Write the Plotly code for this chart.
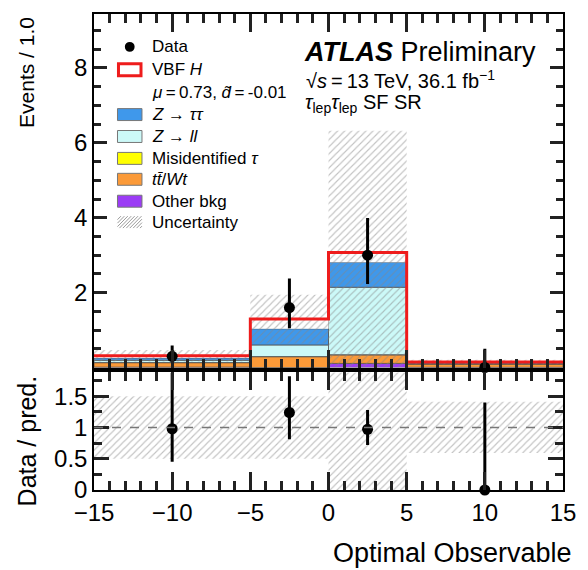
import plotly.graph_objects as go

# ---- binning (variable width, normalised to events per unit width) ----
bin_edges = [-15, -5, 0, 5, 15]

# ---- stacked predictions, bottom to top ----
other_bkg = [0.01, 0.00, 0.11, 0.005]
ttbar_wt = [0.12, 0.29, 0.23, 0.09]
misid_tau = [0.003, 0.003, 0.003, 0.002]
z_ll = [0.06, 0.31, 1.80, 0.02]
z_tautau = [0.06, 0.43, 0.67, 0.01]
vbf_h = [0.06, 0.26, 0.26, 0.02]

# absolute uncertainty on the total prediction
pred_unc = [0.155, 0.65, 3.25, 0.06]

# ---- data ----
data_vals = [0.30, 1.60, 3.00, 0.00]
data_err_up = [0.29, 0.78, 0.99, 0.50]
data_err_dn = [0.16, 0.55, 0.77, 0.00]

# ---- ratio panel ----
ratio_vals = [0.98, 1.24, 0.97, 0.00]
ratio_err_up = [0.90, 0.58, 0.31, 1.40]
ratio_err_dn = [0.53, 0.43, 0.25, 0.00]
ratio_rel_unc = [0.50, 0.50, 1.06, 0.41]

x_tick_vals = [-15, -10, -5, 0, 5, 10, 15]
main_y_ticks = [2, 4, 6, 8]
ratio_y_ticks = [0, 0.5, 1, 1.5]
ratio_y_labels = ["0", "0.5", "1", "1.5"]

FONT = "Liberation Sans, Arial, Helvetica, sans-serif"

centers = [(a + b) / 2 for a, b in zip(bin_edges[:-1], bin_edges[1:])]
widths = [b - a for a, b in zip(bin_edges[:-1], bin_edges[1:])]

stack = [
    ("Other bkg", other_bkg, "#9b3cf5"),
    ("tt/Wt", ttbar_wt, "#fb9a38"),
    ("Misidentified tau", misid_tau, "#ffff00"),
    ("Z->ll", z_ll, "#ccf9f8"),
    ("Z->tautau", z_tautau, "#3f98eb"),
    ("VBF H", vbf_h, "#ffffff"),
]

fig = go.Figure()

base = [0.0] * len(centers)
for name, vals, col in stack:
    fig.add_trace(go.Bar(
        x=centers, y=vals, base=list(base), width=widths,
        marker=dict(color=col, line=dict(color="#555555", width=0.8 if col != "#ffffff" else 0)),
        name=name, showlegend=False, xaxis="x", yaxis="y",
    ))
    base = [b + v for b, v in zip(base, vals)]
total = base

HATCH = dict(shape="/", fgcolor="#858585", bgcolor="rgba(0,0,0,0)", size=5, solidity=0.22, fillmode="overlay")

# hatched uncertainty band on the total
unc_lo = [max(t - u, 0.0) for t, u in zip(total, pred_unc)]
unc_h = [t + u - lo for t, u, lo in zip(total, pred_unc, unc_lo)]
fig.add_trace(go.Bar(
    x=centers, y=unc_h, base=unc_lo, width=widths,
    marker=dict(color="rgba(0,0,0,0)", line=dict(width=0), pattern=HATCH),
    showlegend=False, xaxis="x", yaxis="y",
))

# red outline of the total prediction
fig.add_trace(go.Scatter(
    x=bin_edges, y=total + [total[-1]], mode="lines", line=dict(color="#ee1c1c", width=3, shape="hv"),
    showlegend=False, xaxis="x", yaxis="y",
))

# data points
fig.add_trace(go.Scatter(
    x=centers, y=data_vals, mode="markers",
    marker=dict(color="black", size=11),
    error_y=dict(type="data", symmetric=False, array=data_err_up, arrayminus=data_err_dn,
                 color="black", thickness=3, width=0),
    cliponaxis=False, showlegend=False, xaxis="x", yaxis="y",
))

# ratio panel: uncertainty band
r_lo = [1 - u for u in ratio_rel_unc]
r_h = [2 * u for u in ratio_rel_unc]
fig.add_trace(go.Bar(
    x=centers, y=r_h, base=r_lo, width=widths,
    marker=dict(color="rgba(0,0,0,0)", line=dict(width=0), pattern=HATCH),
    showlegend=False, xaxis="x2", yaxis="y2",
))
fig.add_trace(go.Scatter(
    x=centers, y=ratio_vals, mode="markers",
    marker=dict(color="black", size=11),
    error_y=dict(type="data", symmetric=False, array=ratio_err_up, arrayminus=ratio_err_dn,
                 color="black", thickness=3, width=0),
    cliponaxis=False, showlegend=False, xaxis="x2", yaxis="y2",
))

# invisible anchors so the mirrored tick axes (top / right) get drawn
for xa, ya in [("x3", "y"), ("x", "y3"), ("x4", "y2"), ("x2", "y4")]:
    fig.add_trace(go.Scatter(x=[0], y=[1], mode="markers", marker=dict(opacity=0, size=1),
                             hoverinfo="skip", showlegend=False, xaxis=xa, yaxis=ya))

# ---- layout geometry (pixels) ----
W, H = 588, 570
L, R, T, B = 94, 573, 12, 490
main_bottom = 367
ratio_top = 372


def px(x):
    return (x - L) / (R - L)


def py(y):
    return (B - y) / (B - T)


TICKC = "#222222"
TICKW = 2.5

axis_common = dict(
    showline=True, linecolor="black", linewidth=1.5, mirror=True,
    ticks="inside", tickcolor=TICKC, tickwidth=TICKW,
    showgrid=False, zeroline=False,
    tickfont=dict(family=FONT, size=24, color="black"),
)


def minor(dtick, tick0, length):
    return dict(ticks="inside", tickmode="linear", dtick=dtick, tick0=tick0, ticklen=length,
                tickcolor=TICKC, tickwidth=TICKW)


main_dom = [py(main_bottom), 1]
ratio_dom = [0, py(ratio_top)]

xmain = dict(axis_common, range=[-15, 15], tickmode="linear", tick0=-15, dtick=5, ticklen=18,
             minor=minor(1, -15, 9))
ymain = dict(axis_common, range=[0, 9.44], tickmode="array", tickvals=main_y_ticks, ticklen=13,
             minor=minor(0.5, 0, 7))
yratio = dict(axis_common, range=[0, 1.88], tickmode="array", tickvals=ratio_y_ticks,
              ticktext=ratio_y_labels, ticklen=15, minor=minor(0.25, 0, 8))

fig.update_layout(
    width=W, height=H,
    margin=dict(l=L, r=W - R, t=T, b=H - B, pad=0),
    paper_bgcolor="white", plot_bgcolor="rgba(0,0,0,0)",
    barmode="overlay",
    font=dict(family=FONT, color="black"),
    showlegend=False,
    xaxis=dict(xmain, anchor="y", domain=[0, 1], showticklabels=False),
    yaxis=dict(ymain, anchor="x", domain=main_dom),
    xaxis2=dict(xmain, anchor="y2", domain=[0, 1]),
    yaxis2=dict(yratio, anchor="x2", domain=ratio_dom),
    # mirrored tick sets on the top and right edges
    xaxis3=dict(xmain, overlaying="x", side="top", anchor="y", showticklabels=False),
    yaxis3=dict(ymain, overlaying="y", side="right", anchor="x", showticklabels=False),
    xaxis4=dict(xmain, overlaying="x2", side="top", anchor="y2", showticklabels=False),
    yaxis4=dict(yratio, overlaying="y2", side="right", anchor="x2", showticklabels=False),
)

# reference line at ratio = 1
fig.add_shape(type="line", xref="x2", yref="y2", x0=-15, x1=15, y0=1, y1=1,
              line=dict(color="#777777", width=1.5, dash="dash"))

annotations = []


def text(x, y, s, size, xanchor="left", yanchor="middle", angle=0):
    annotations.append(dict(
        x=px(x), y=py(y), xref="paper", yref="paper", text=s, showarrow=False,
        xanchor=xanchor, yanchor=yanchor, textangle=angle,
        font=dict(family=FONT, size=size, color="black"),
    ))


TS = "\u2009"  # thin space

# axis titles
text(25, 13, "Events / 1.0", 21, xanchor="center", yanchor="top", angle=-90)
text(26, 373, "Data / pred.", 25, xanchor="center", yanchor="top", angle=-90)
text(584, 553, "Optimal Observable", 27, xanchor="right", yanchor="middle")

# experiment label
text(306, 50, "<b><i>ATLAS</i></b> Preliminary", 27)
text(308, 78, f"√<i>s</i>{TS}={TS}13 TeV, 36.1 fb<sup>−1</sup>", 20)
text(307, 102, "<i>τ</i><sub>lep</sub><i>τ</i><sub>lep</sub> SF SR", 20)

# ---- legend drawn by hand ----
shapes = []
box_x0, box_x1 = 118, 143
leg_text_x = 151
leg_rows = [
    ("data", "Data", 45),
    ("vbf", "VBF <i>H</i>", 68),
    ("none", f"<i>μ</i>{TS}={TS}0.73, <i>d̃</i>{TS}={TS}-0.01", 91),
    ("#3f98eb", "<i>Z</i> → <i>ττ</i>", 113),
    ("#ccf9f8", "<i>Z</i> → <i>ll</i>", 135),
    ("#ffff00", "Misidentified <i>τ</i>", 157),
    ("#fb9a38", "<i>t</i><i>t̄</i>/<i>Wt</i>", 178),
    ("#9b3cf5", "Other bkg", 200),
    ("unc", "Uncertainty", 221),
]
for kind, label, yc in leg_rows:
    text(leg_text_x, yc, label, 17)
    y0, y1 = yc - 6, yc + 6
    if kind == "data":
        shapes.append(dict(type="circle", xref="paper", yref="paper",
                           x0=px(130.5 - 5), x1=px(130.5 + 5), y0=py(yc + 5), y1=py(yc - 5),
                           fillcolor="black", line=dict(width=0)))
    elif kind == "vbf":
        shapes.append(dict(type="rect", xref="paper", yref="paper",
                           x0=px(box_x0 + 1), x1=px(box_x1 - 1), y0=py(y1), y1=py(y0),
                           fillcolor="white", line=dict(color="#ee1c1c", width=3)))
    elif kind == "unc":
        segs = []
        step = 3.5
        k = box_x0 - 12
        while k < box_x1:
            xa, ya = k, y1
            xb, yb = k + 12, y0
            # clip segment to the box
            if xa < box_x0:
                ya -= box_x0 - xa
                xa = box_x0
            if xb > box_x1:
                yb += xb - box_x1
                xb = box_x1
            if xb > xa:
                segs.append(f"M{px(xa)},{py(ya)} L{px(xb)},{py(yb)}")
            k += step
        shapes.append(dict(type="path", xref="paper", yref="paper", path=" ".join(segs),
                           line=dict(color="#9a9a9a", width=1)))
    elif kind != "none":
        shapes.append(dict(type="rect", xref="paper", yref="paper",
                           x0=px(box_x0), x1=px(box_x1), y0=py(y1), y1=py(y0),
                           fillcolor=kind, line=dict(color="#777777", width=1)))

fig.update_layout(annotations=annotations)
for s in shapes:
    fig.add_shape(**s)

fig.write_html("out.html")
